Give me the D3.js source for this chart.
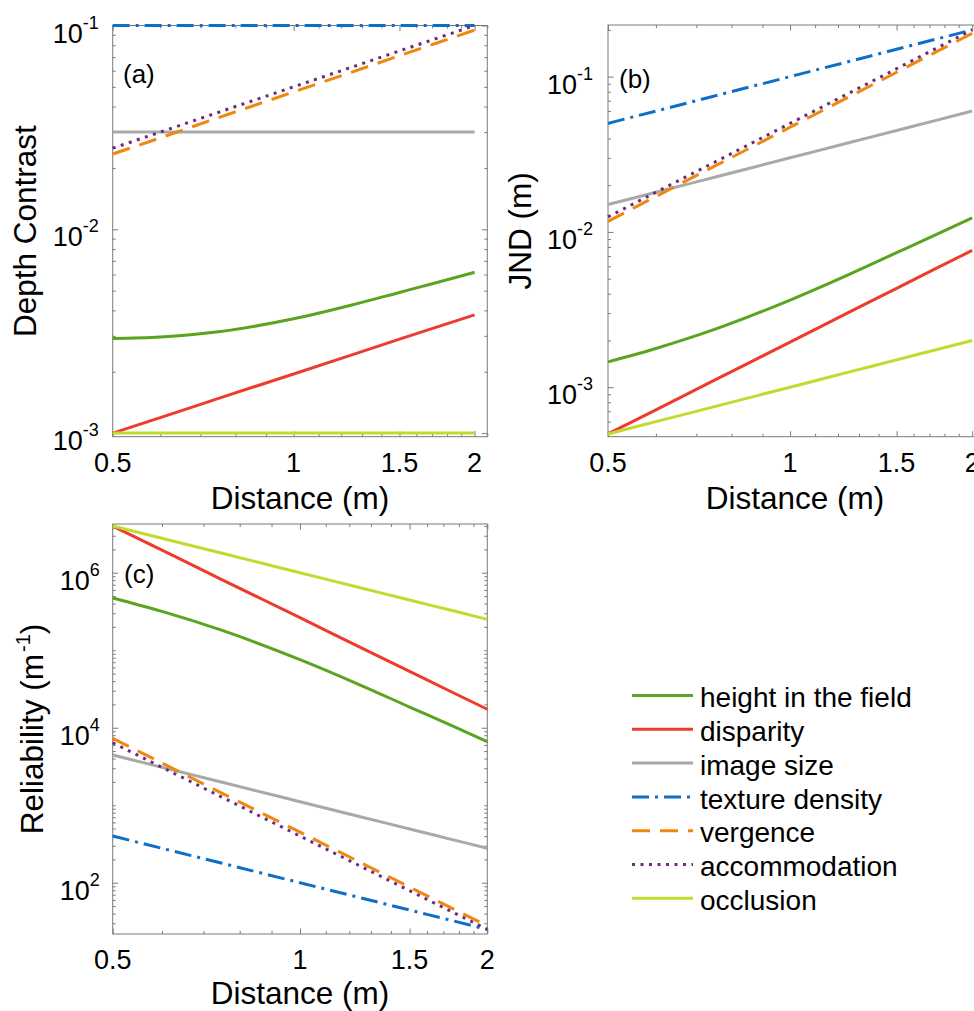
<!DOCTYPE html>
<html><head><meta charset="utf-8">
<script src="https://cdn.jsdelivr.net/npm/d3@7"></script>
<style>body{margin:0;background:#fff} text{font-family:"Liberation Sans",Arial,Helvetica,sans-serif;fill:#000}</style>
</head><body><svg id="c" width="974" height="1011"></svg>
<script>
// ---------- data ----------
const distances = [0.5, 0.6, 0.75, 1, 1.25, 1.5, 1.75, 2];
const seriesNames = ["height in the field","disparity","image size","texture density","vergence","accommodation","occlusion"];
const seriesColors = ["#5aa41f","#ef3b2c","#a9a9a9","#0e6fc8","#f0870e","#6b2c7e","#c4d92e"];
const seriesDash = [null, null, null, "17,6,3,6", "18,10", "3,5.5", null];

// (a) depth contrast, one row per series (legend order)
const depthContrast = [
  [0.00291, 0.00296, 0.00314, 0.00364, 0.00425, 0.00490, 0.00553, 0.00615],
  [0.00100, 0.00119, 0.00148, 0.00195, 0.00242, 0.00289, 0.00335, 0.00380],
  [0.03, 0.03, 0.03, 0.03, 0.03, 0.03, 0.03, 0.03],
  [0.1, 0.1, 0.1, 0.1, 0.1, 0.1, 0.1, 0.1],
  [0.0234, 0.0281, 0.0353, 0.0472, 0.0591, 0.0711, 0.0830, 0.0950],
  [0.025, 0.030, 0.0375, 0.050, 0.0625, 0.075, 0.0875, 0.100],
  [0.001, 0.001, 0.001, 0.001, 0.001, 0.001, 0.001, 0.001]
];
// (b) JND (m)
const jnd = [
  [0.001455, 0.001776, 0.002355, 0.00364, 0.00531, 0.00735, 0.00968, 0.0123],
  [0.00050, 0.000715, 0.00111, 0.00195, 0.00303, 0.00433, 0.00586, 0.0076],
  [0.015, 0.018, 0.0225, 0.03, 0.0375, 0.045, 0.0525, 0.06],
  [0.05, 0.06, 0.075, 0.1, 0.125, 0.15, 0.175, 0.2],
  [0.0117, 0.0169, 0.0265, 0.0472, 0.0739, 0.1067, 0.1453, 0.190],
  [0.0125, 0.018, 0.0281, 0.05, 0.0781, 0.1125, 0.1531, 0.2],
  [0.0005, 0.0006, 0.00075, 0.001, 0.00125, 0.0015, 0.00175, 0.002]
];
// (c) reliability (m^-1)
const reliability = [
  [4.72e5, 3.17e5, 1.80e5, 7.55e4, 3.55e4, 1.85e4, 1.07e4, 6.61e3],
  [4.0e6, 1.96e6, 8.1e5, 2.63e5, 1.09e5, 5.33e4, 2.91e4, 1.73e4],
  [4444, 3086, 1975, 1111, 711, 494, 363, 278],
  [400, 278, 178, 100, 64, 44.4, 32.7, 25],
  [7300, 3500, 1424, 449, 183, 88, 47.4, 27.7],
  [6400, 3086, 1264, 400, 164, 79, 42.6, 25],
  [4.0e6, 2.78e6, 1.78e6, 1.0e6, 6.4e5, 4.44e5, 3.27e5, 2.5e5]
];

const xMajorTicks = [0.5, 1, 1.5, 2];
const xMinorTicks = [0.6, 0.7, 0.8, 0.9, 1.1, 1.2, 1.3, 1.4, 1.6, 1.7, 1.8, 1.9, 2.1];
const xTickLabels = ["0.5", "1", "1.5", "2"];
const yMajorA = [1e-3, 1e-2, 1e-1];
const yMajorB = [1e-3, 1e-2, 1e-1];
const yMajorC = [1e2, 1e4, 1e6];

// ---------- layout ----------
const svg = d3.select("#c");
svg.append("rect").attr("width", 974).attr("height", 1011).attr("fill", "#fff");
const axisColor = "#7a7a7a";
const FONT_TICK = 27, FONT_EXP = 18, FONT_LABEL = 31.5;

function minorLogTicks(domain, majors) {
  const out = [];
  for (let k = -5; k <= 7; k++) for (let m = 1; m <= 9; m++) {
    const v = m * Math.pow(10, k);
    if (v >= domain[0] && v <= domain[1] && !majors.some(t => Math.abs(t - v) / v < 1e-9)) out.push(v);
  }
  return out;
}

const panels = [
  {left:112.7, top:25.5, width:374.6, height:411.2, xDomain:[0.5,2.1], yDomain:[0.00096,0.1],
   data:depthContrast, yMajor:yMajorA, yLabel:"Depth Contrast", yLabelX:36, tag:"(a)", tagPos:[123,82.5], yLabelGap:14, xLabelCenter:300, xLabelOffset:72},
  {left:608, top:25, width:377, height:411.7, xDomain:[0.5,2.1], yDomain:[0.00048,0.215],
   data:jnd, yMajor:yMajorB, yLabel:"JND (m)", yLabelX:531, tag:"(b)", tagPos:[619,88], yLabelGap:15, xLabelCenter:795, xLabelOffset:72},
  {left:112.7, top:524, width:374.6, height:410, xDomain:[0.5,2], yDomain:[21.8,4.25e6],
   data:reliability, yMajor:yMajorC, yLabel:null, yLabelX:43, tag:"(c)", tagPos:[124,583], yLabelGap:13, xLabelCenter:300, xLabelOffset:69.5}
];

panels.forEach((p) => {
  const g = svg.append("g").attr("transform", `translate(${p.left},${p.top})`);
  const x = d3.scaleLog().domain(p.xDomain).range([0, p.width]);
  const y = d3.scaleLog().domain(p.yDomain).range([p.height, 0]);
  const xMinor = xMinorTicks.filter(v => v >= p.xDomain[0] && v <= p.xDomain[1]);
  const yMinor = minorLogTicks(p.yDomain, p.yMajor);

  // frame
  g.append("rect").attr("width", p.width).attr("height", p.height)
    .attr("fill", "none").attr("stroke", axisColor).attr("stroke-width", 1);

  const mk = (axis, transform, size, values) => {
    const a = g.append("g").attr("transform", transform)
      .call(axis.tickValues(values).tickSize(size).tickFormat(() => ""));
    a.select(".domain").remove();
    a.selectAll("line").attr("stroke", axisColor);
  };
  mk(d3.axisBottom(x), `translate(0,${p.height})`, -5.5, xMajorTicks);
  mk(d3.axisBottom(x), `translate(0,${p.height})`, -3, xMinor);
  mk(d3.axisTop(x), `translate(0,0)`, -5.5, xMajorTicks);
  mk(d3.axisTop(x), `translate(0,0)`, -3, xMinor);
  mk(d3.axisLeft(y), `translate(0,0)`, -5.5, p.yMajor);
  mk(d3.axisLeft(y), `translate(0,0)`, -3, yMinor);
  mk(d3.axisRight(y), `translate(${p.width},0)`, -5.5, p.yMajor);
  mk(d3.axisRight(y), `translate(${p.width},0)`, -3, yMinor);

  // x tick labels
  xMajorTicks.forEach((v, i) => {
    g.append("text").attr("x", x(v)).attr("y", p.height + 35)
      .attr("text-anchor", "middle").attr("font-size", FONT_TICK).text(xTickLabels[i]);
  });
  // y tick labels 10^k
  p.yMajor.forEach(v => {
    const e = Math.round(Math.log10(v));
    const t = g.append("text").attr("x", -p.yLabelGap).attr("y", y(v) + 17)
      .attr("text-anchor", "end").attr("font-size", FONT_TICK);
    t.append("tspan").text("10");
    t.append("tspan").attr("font-size", FONT_EXP).attr("dy", -14).text(String(e));
  });

  // x label
  svg.append("text").attr("x", p.xLabelCenter).attr("y", p.top + p.height + p.xLabelOffset)
    .attr("text-anchor", "middle").attr("font-size", FONT_LABEL).text("Distance (m)");

  // y label
  const yl = svg.append("text")
    .attr("transform", `translate(${p.yLabelX},${p.top + p.height / 2}) rotate(-90)`)
    .attr("text-anchor", "middle").attr("font-size", FONT_LABEL);
  if (p.yLabel) yl.text(p.yLabel);
  else {
    yl.append("tspan").text("Reliability (m");
    yl.append("tspan").attr("font-size", 20).attr("dy", -13).attr("dx", 2).text("-1");
    yl.append("tspan").attr("dy", 13).text(")");
  }

  // series
  const line = d3.line().x(d => x(d[0])).y(d => y(d[1])).curve(d3.curveMonotoneX);
  p.data.forEach((vals, si) => {
    const pts = distances.map((d, i) => [d, vals[i]]);
    const path = g.append("path").attr("d", line(pts)).attr("fill", "none")
      .attr("stroke", seriesColors[si]).attr("stroke-width", 3);
    if (seriesDash[si]) path.attr("stroke-dasharray", seriesDash[si]);
  });

  // panel tag
  svg.append("text").attr("x", p.tagPos[0]).attr("y", p.tagPos[1])
    .attr("font-size", 26).text(p.tag);
});

// legend
const legend = svg.append("g");
seriesNames.forEach((name, i) => {
  const ly = 695.5 + i * 33.8;
  const l = legend.append("line").attr("x1", 632).attr("x2", 693).attr("y1", ly).attr("y2", ly)
    .attr("stroke", seriesColors[i]).attr("stroke-width", 3);
  if (seriesDash[i]) l.attr("stroke-dasharray", seriesDash[i]);
  legend.append("text").attr("x", 700).attr("y", ly + 11.6).attr("font-size", 28).text(name);
});
</script></body></html>
